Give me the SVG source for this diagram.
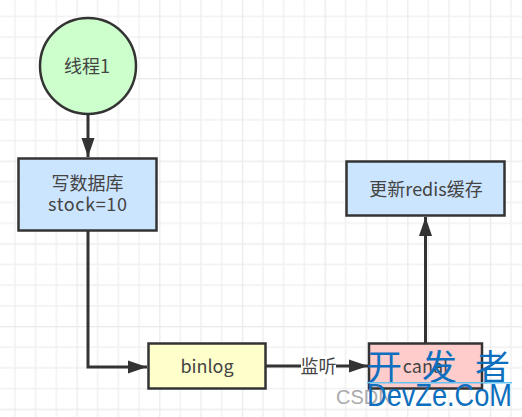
<svg xmlns="http://www.w3.org/2000/svg" width="522" height="417" viewBox="0 0 522 417">
<defs>
<pattern id="grid" width="82.67" height="82.67" patternUnits="userSpaceOnUse" x="-6.17" y="-4.67">
<path d="M0.5 0V82.67M21.17 0V82.67M41.83 0V82.67M62.5 0V82.67M0 0.5H82.67M0 21.17H82.67M0 41.83H82.67M0 62.5H82.67" stroke="#f1f1f1" stroke-width="1.5" fill="none"/>
<path d="M0.5 0V82.67M0 0.5H82.67" stroke="#ebebeb" stroke-width="1.5" fill="none"/>
</pattern>
<marker id="arrow" markerUnits="userSpaceOnUse" markerWidth="20" markerHeight="14" refX="19" refY="7" orient="auto">
<path d="M0 0.5L19 7L0 13.5Z" fill="#333"/>
</marker>
</defs>
<style>
.n{stroke:#333;stroke-width:2.5}
.t{font-family:"Noto Sans CJK SC","Open Sans",sans-serif;font-size:18px;fill:#444;text-anchor:middle}
.c{fill:none;stroke:#333;stroke-width:3}
.w{font-family:"Noto Sans CJK SC",sans-serif;font-size:35px;fill:#0d6fbd}
</style>
<rect width="522" height="417" fill="#fff"/>
<rect width="522" height="417" fill="url(#grid)"/>
<g id="connectors">
<path class="c" d="M88 115V157" marker-end="url(#arrow)"/>
<path class="c" d="M88 231V367H147" marker-end="url(#arrow)"/>
<path class="c" d="M266 366H368" marker-end="url(#arrow)"/>
<path class="c" d="M425.500 343V217" marker-end="url(#arrow)"/>
<rect x="301" y="356" width="35" height="22" fill="#fff"/>
<text class="t" x="318.500" y="373">监听</text>
</g>
<g id="node-thread"><circle class="n" cx="88" cy="66" r="48" fill="#ccffcc"/><text class="t" x="87" y="73">线程1</text></g>
<g id="node-db"><rect class="n" x="18.500" y="158.500" width="138" height="72" fill="#cce5ff"/><text class="t" x="87.500" y="190">写数据库</text><text class="t" x="87.500" y="211" textLength="79">stock=10</text></g>
<g id="node-binlog"><rect class="n" x="148.500" y="343.500" width="117" height="45" fill="#ffffcc"/><text class="t" x="207" y="373">binlog</text></g>
<g id="node-canal"><rect class="n" x="369" y="343.500" width="113" height="45" fill="#ffcccc"/><text class="t" x="425.500" y="373">canal</text></g>
<g id="node-redis"><rect class="n" x="346.500" y="161.500" width="158" height="54" fill="#cce5ff"/><text class="t" x="426" y="196">更新redis缓存</text></g>
<g id="watermark">
<text x="336" y="404" font-family="'Liberation Sans',sans-serif" font-size="20" fill="#aaa">CSDN</text>
<text class="w" x="367" y="380">开</text>
<text class="w" x="422" y="380">发</text>
<text class="w" x="475" y="380">者</text>
<rect x="367" y="382" width="145" height="1.500" fill="#66c2ee"/>
<text x="367" y="406" font-family="'Liberation Sans',sans-serif" font-size="32" fill="#0d6fbd" textLength="145" lengthAdjust="spacingAndGlyphs">DevZe.CoM</text>
</g>
</svg>
